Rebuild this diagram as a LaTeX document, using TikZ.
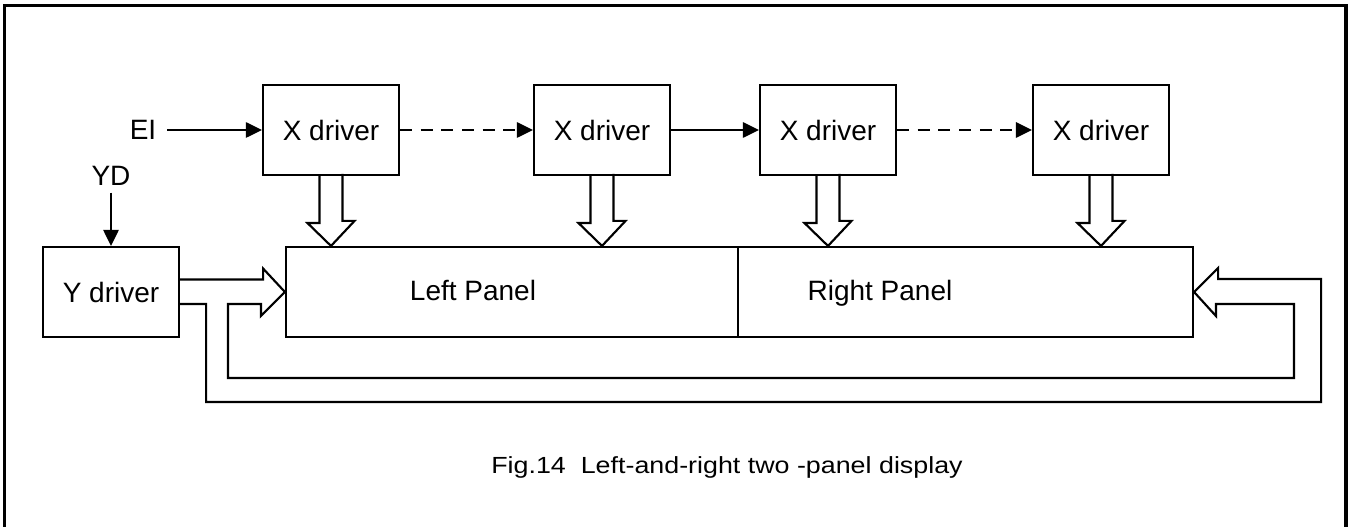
\documentclass[tikz,border=0pt]{standalone}
\usepackage{fontspec}
\setmainfont{Liberation Sans}
\usetikzlibrary{arrows.meta}
\begin{document}
\begin{tikzpicture}[x=0.75pt,y=-0.75pt,
    drv/.style={draw,line width=1.6pt,minimum width=102pt,minimum height=67.5pt},
    panel/.style={draw,line width=1.6pt,minimum height=67.5pt},
    sig/.style={line width=1.3pt,-{Triangle[length=12pt,width=11.5pt]}},
    pipe/.style={line width=1.6pt,line join=miter}]
    \fontsize{21}{25}\selectfont
    \useasboundingbox (0,0) rectangle (1351,527);
    \draw[line width=2.3pt] (4.5,527) -- (4.5,5.5) -- (1346,5.5) -- (1346,527);
    \node[drv] (x1) at (331,130) {X driver};
    \node[drv] (x2) at (602,130) {X driver};
    \node[drv] (x3) at (828,130) {X driver};
    \node[drv] (x4) at (1101,130) {X driver};
    \node[drv] (yd) at (111,292) {Y driver};
    \node[panel,minimum width=339pt] (lp) at (512,292) {};
    \node[panel,minimum width=341.25pt] (rp) at (965.5,292) {};
    \node[anchor=base] (lpt) at (473,300) {Left Panel};
    \node[anchor=base] (rpt) at (880,300) {Right Panel};
    \node[inner sep=8pt] (ei) at (143,130) {EI};
    \node[inner sep=5pt] (ydin) at (111,176) {YD};
    \draw[sig] (ei) -- (x1);
    \draw[sig,dash pattern=on 9pt off 6.5pt] (x1) -- (x2);
    \draw[sig] (x2) -- (x3);
    \draw[sig,dash pattern=on 9pt off 6.5pt] (x3) -- (x4);
    \draw[sig] (ydin) -- (yd);
    \foreach \n in {x1,x2,x3,x4}
      \draw[pipe] (\n.south) ++(-11.5,0) -- ++(0,47) -- ++(-12,0) -- (\n.south |- lp.north)
        -- ++(23.5,-25) -- ++(-12,0) -- ++(0,-47);
    \draw[pipe] (yd.east) ++(0,-12.5) -- ++(83,0) -- ++(0,-11) -- (lp.west) -- ++(-24,24)
      -- ++(0,-12) -- ++(-33,0) -- ++(0,74) -- ++(1066,0) -- ++(0,-74) -- ++(-78,0)
      -- ++(0,12) -- (rp.east) -- ++(24,-24) -- ++(0,11) -- ++(103,0) -- ++(0,123)
      -- ++(-1115,0) -- ++(0,-98) -- ++(-26,0);
    \node (cap) at (727,467) {\fontsize{17.5}{21}\selectfont\addfontfeatures{FakeStretch=1.15}Fig.14\ \ Left-and-right two -panel display};
  \end{tikzpicture}
\end{document}
